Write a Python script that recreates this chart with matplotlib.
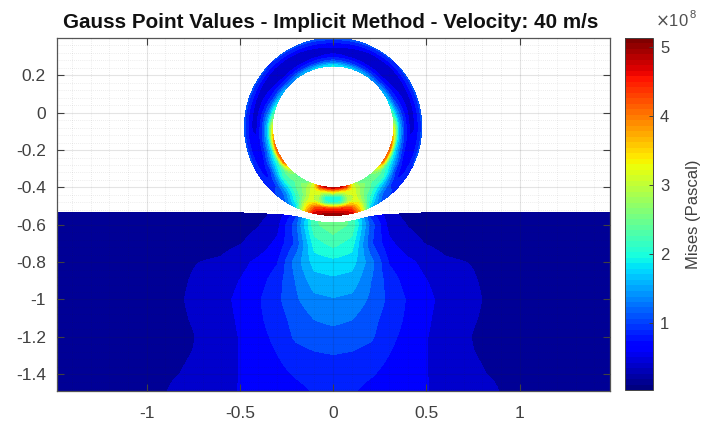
#! /usr/bin/env python3
# -*- coding: utf-8 -*-
import numpy as np
import matplotlib
matplotlib.use('Agg')
import matplotlib.pyplot as plt
from matplotlib.cm import ScalarMappable
from matplotlib.colors import Normalize

plt.rcParams['font.family'] = ['Liberation Sans', 'DejaVu Sans']
plt.rcParams['axes.unicode_minus'] = False

title = 'Gauss Point Values - Implicit Method - Velocity: 40 m/s'
colorbar_label = 'Mises (Pascal)'
x_ticks = [-1, -0.5, 0, 0.5, 1]
y_ticks = [0.2, 0, -0.2, -0.4, -0.6, -0.8, -1, -1.2, -1.4]
cbar_ticks = [1, 2, 3, 4, 5]
mises_min = 0.03
mises_max = 5.13

# ring, values in 1e8 Pa, angle measured from the bottom, symmetric about x=0
ring_center_y = -0.075
ring_radius = [0.325, 0.35, 0.38, 0.41, 0.44, 0.475]
ring_angle = [0, 6, 12, 18, 25, 35, 45, 55, 70, 90, 100, 115, 135, 155, 180]
ring_mises = [
    [4.9, 3.3, 1.9, 2.1, 4.4, 5.1],
    [4.8, 3.2, 1.9, 2.2, 4.4, 5.0],
    [4.5, 3.3, 2.9, 3.0, 4.2, 4.8],
    [3.2, 3.2, 3.1, 3.1, 3.4, 3.6],
    [2.5, 2.7, 2.6, 2.4, 2.2, 1.7],
    [2.3, 2.4, 2.2, 1.8, 1.3, 1.0],
    [2.9, 2.4, 2.1, 1.4, 0.9, 0.9],
    [4.1, 2.2, 1.6, 0.9, 0.6, 0.9],
    [4.2, 1.9, 1.1, 0.6, 0.5, 1.0],
    [3.1, 1.7, 0.9, 0.45, 0.5, 1.0],
    [2.3, 1.4, 0.8, 0.45, 0.5, 1.0],
    [1.7, 1.0, 0.6, 0.4, 0.5, 1.0],
    [1.3, 0.8, 0.4, 0.3, 0.45, 0.95],
    [1.6, 0.9, 0.45, 0.35, 0.5, 1.0],
    [1.9, 1.1, 0.55, 0.4, 0.6, 1.1],
]

# ground, symmetric about x=0
surface_x = [0, 0.05, 0.1, 0.15, 0.2, 0.25, 0.3, 0.4, 0.5, 0.7, 1.48]
surface_y = [-0.59, -0.588, -0.58, -0.568, -0.556, -0.549, -0.545, -0.54, -0.536, -0.533, -0.532]
ground_x = [0, 0.1, 0.2, 0.3, 0.4, 0.5, 0.6, 0.75, 0.9, 1.1, 1.48]
ground_y = [-0.53, -0.6, -0.7, -0.8, -0.9, -1.0, -1.1, -1.2, -1.3, -1.4, -1.49]
ground_mises = [
    [2.5, 2.3, 0.8, 0.3, 0.18, 0.15, 0.14, 0.14, 0.14, 0.14, 0.14],
    [2.5, 2.3, 1.1, 0.4, 0.25, 0.17, 0.15, 0.14, 0.14, 0.14, 0.14],
    [2.2, 2.0, 1.0, 0.55, 0.35, 0.25, 0.18, 0.15, 0.14, 0.14, 0.14],
    [1.8, 1.75, 1.3, 0.7, 0.55, 0.42, 0.3, 0.25, 0.15, 0.14, 0.14],
    [1.6, 1.55, 1.2, 0.85, 0.62, 0.5, 0.38, 0.28, 0.17, 0.14, 0.14],
    [1.4, 1.35, 1.15, 0.9, 0.7, 0.55, 0.42, 0.3, 0.18, 0.14, 0.14],
    [1.25, 1.2, 1.05, 0.85, 0.68, 0.52, 0.42, 0.28, 0.17, 0.14, 0.14],
    [1.1, 1.08, 1.0, 0.78, 0.65, 0.5, 0.42, 0.25, 0.15, 0.14, 0.14],
    [0.95, 0.92, 0.85, 0.72, 0.62, 0.5, 0.42, 0.27, 0.2, 0.14, 0.13],
    [0.85, 0.82, 0.75, 0.65, 0.6, 0.5, 0.42, 0.3, 0.22, 0.15, 0.13],
    [0.75, 0.75, 0.65, 0.62, 0.6, 0.5, 0.45, 0.4, 0.25, 0.18, 0.12],
]


def refine(rows, cols, values, new_rows, new_cols):
    # bilinear resampling so the outlines come out smooth
    values = np.array(values, dtype=float)
    by_col = np.array([np.interp(new_cols, cols, row) for row in values])
    return np.array([np.interp(new_rows, rows, by_col[:, j]) for j in range(len(new_cols))]).T


fig = plt.figure(figsize=(7.01, 4.23), dpi=100)
W, H = 701.0, 423.0
ax = fig.add_axes([57 / W, 1 - 391 / H, 553 / W, 353 / H])
cax = fig.add_axes([625 / W, 1 - 390 / H, 28 / W, 352 / H])

levels = np.linspace(mises_min, mises_max, 23)
norm = Normalize(mises_min, mises_max)
opts = dict(levels=levels, cmap='jet', norm=norm, extend='both', antialiased=False)

# ring
theta_fine = np.linspace(0, 180, 181)
radius_fine = np.linspace(ring_radius[0], ring_radius[-1], 30)
ring_fine = refine(ring_angle, ring_radius, ring_mises, theta_fine, radius_fine)
T, R = np.meshgrid(np.radians(theta_fine), radius_fine, indexing='ij')
for side in (-1, 1):
    ax.contourf(side * R * np.sin(T), ring_center_y - R * np.cos(T), ring_fine, **opts)

# ground
x_fine = np.linspace(0, 1.484, 149)
y_fine = np.linspace(ground_y[0], ground_y[-1], 120)
ground_fine = refine(ground_y[::-1], ground_x, ground_mises[::-1], y_fine, x_fine)
X, Y = np.meshgrid(x_fine, y_fine)
Y = np.minimum(Y, np.interp(X, surface_x, surface_y))
for side in (-1, 1):
    ax.contourf(side * X, Y, ground_fine, **opts)

ax.set_xlim(-1.48, 1.484)
ax.set_ylim(-1.49, 0.40)
ax.set_xticks(x_ticks)
ax.set_xticklabels(['-1', '-0.5', '0', '0.5', '1'])
ax.set_yticks(y_ticks)
ax.set_yticklabels(['0.2', '0', '-0.2', '-0.4', '-0.6', '-0.8', '-1', '-1.2', '-1.4'])
ax.set_xticks(np.arange(-1.4, 1.45, 0.1), minor=True)
ax.set_yticks(np.arange(-1.48, 0.4, 0.04), minor=True)
ax.set_axisbelow(False)
ax.grid(True, which='major', color='#262626', alpha=0.12, linewidth=0.8)
ax.grid(True, which='minor', color='#262626', alpha=0.16, linewidth=0.5, linestyle=(0, (1, 2)))
ax.tick_params(which='major', direction='in', length=5, width=0.8, top=True, right=True,
               labelsize=12.5, colors='#404040', pad=8)
ax.tick_params(axis='x', which='major', pad=11)
ax.tick_params(which='minor', length=0)
for spine in ax.spines.values():
    spine.set_color('#555555')
    spine.set_linewidth(0.9)
ax.set_title(title, fontsize=14.9, fontweight='bold', color='#111111', pad=7, x=0.4955)

cb = fig.colorbar(ScalarMappable(norm=norm, cmap=plt.get_cmap('jet', 64)), cax=cax)
cb.set_ticks(cbar_ticks)
cb.ax.tick_params(direction='in', length=3, width=0.7, labelsize=12, colors='#404040', pad=5)
cb.outline.set_edgecolor('#444444')
cb.outline.set_linewidth(0.7)
cb.set_label(colorbar_label, fontsize=12, color='#404040', labelpad=12)
fig.text(655 / W, 1 - 21 / H, r'$\times$10', fontsize=12, color='#505050', va='center')
fig.text(690 / W, 1 - 15 / H, '8', fontsize=8, color='#505050', va='center')

fig.savefig('out.png', dpi=100)
